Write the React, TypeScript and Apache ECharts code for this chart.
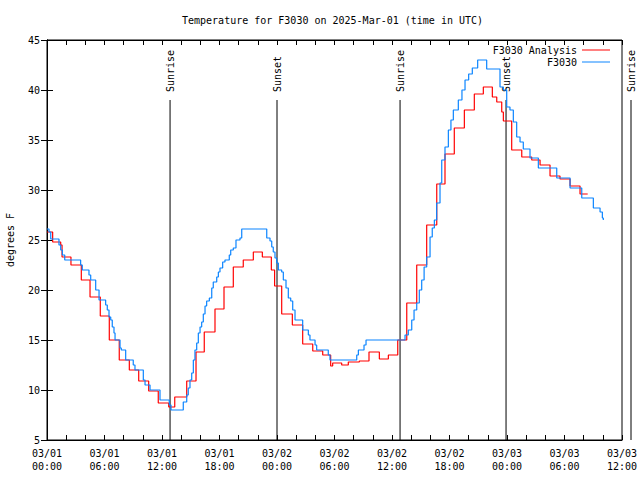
import React, { useEffect, useRef } from "react";
import * as echarts from "echarts";

const MONO = '"DejaVu Sans Mono", "Liberation Mono", monospace';

// hours since 03/01 00:00 UTC
const analysisTimes = [0, 0.59, 1.43, 1.57, 2.5, 3.58, 4.49, 5.56, 6.5, 7.54, 8.59, 9.57, 10.61, 11.61, 12.7, 13.33, 14.58, 15.55, 16.41, 17.53, 18.47, 19.44, 20.48, 21.53, 22.47, 23.41, 23.75, 24.49, 25.6, 26.68, 27.73, 28.77, 29.6, 29.81, 30.75, 31.44, 32.59, 33.6, 34.68, 35.62, 36.6, 37.54, 38.58, 39.62, 40.67, 41.53, 42.5, 43.55, 44.59, 45.53, 46.47, 46.93, 47.45, 47.62, 48.49, 49.54, 50.58, 51.45, 52.49, 53.53, 54.58, 55.62, 56.42];
const analysisValues = [25.8, 24.8, 24.5, 23.3, 22.5, 21.0, 19.3, 17.4, 15.0, 13.0, 12.0, 10.9, 9.9, 8.7, 8.3, 9.3, 10.9, 13.8, 15.8, 18.1, 20.3, 22.3, 23.0, 23.8, 23.3, 22.0, 20.4, 17.6, 16.5, 14.6, 13.9, 13.5, 12.4, 12.7, 12.5, 12.8, 12.9, 13.8, 13.1, 13.5, 15.0, 18.7, 22.5, 26.5, 30.6, 33.6, 36.2, 38.0, 39.6, 40.3, 39.3, 38.8, 37.8, 36.9, 34.0, 33.3, 33.0, 32.5, 31.4, 31.1, 30.4, 29.6, 29.6];

const stationTimes = [0, 0.21, 0.39, 1.25, 1.43, 1.6, 1.85, 3.51, 3.68, 4.38, 4.56, 5.08, 5.43, 6.12, 6.29, 6.47, 6.65, 6.81, 6.99, 7.1, 7.62, 7.75, 8.21, 9.0, 9.18, 10.05, 10.23, 10.75, 11.79, 12.76, 12.94, 14.22, 14.58, 14.74, 14.92, 15.1, 15.27, 15.44, 15.62, 15.79, 15.97, 16.14, 16.31, 16.49, 16.66, 16.94, 17.19, 17.35, 17.71, 17.88, 18.05, 18.33, 18.57, 19.02, 19.17, 19.44, 19.72, 20.14, 20.32, 22.93, 23.27, 23.45, 23.61, 23.79, 23.97, 24.14, 24.49, 24.66, 24.94, 25.18, 25.43, 25.64, 25.88, 26.68, 27.27, 27.44, 27.97, 28.14, 29.35, 29.53, 32.32, 32.49, 33.08, 33.29, 37.36, 37.7, 38.06, 38.3, 38.58, 38.85, 39.1, 39.35, 39.62, 39.97, 40.2, 40.42, 40.66, 41.01, 41.19, 41.53, 41.88, 42.15, 42.4, 42.92, 43.3, 43.62, 44.0, 44.38, 44.94, 45.88, 47.27, 47.62, 47.97, 48.31, 48.66, 49.01, 49.36, 49.7, 50.4, 51.27, 53.19, 54.58, 55.8, 57.01, 57.71, 57.95, 58.05];
const stationValues = [26.1, 25.8, 25.1, 24.5, 24.0, 23.5, 23.0, 22.5, 22.0, 21.5, 21.0, 20.0, 19.0, 18.5, 18.0, 17.3, 17.0, 16.3, 15.7, 15.0, 14.2, 14.0, 13.0, 12.5, 12.0, 11.0, 10.5, 10.0, 9.0, 8.5, 8.0, 8.8, 9.5, 10.2, 11.0, 11.7, 13.0, 14.0, 14.7, 15.7, 16.3, 16.8, 17.6, 18.4, 18.9, 19.2, 20.2, 20.8, 21.3, 21.8, 22.2, 22.8, 23.0, 23.5, 24.0, 24.2, 25.0, 25.2, 26.1, 25.2, 24.9, 24.3, 23.8, 23.2, 22.7, 22.0, 21.8, 21.0, 20.2, 19.2, 18.9, 18.0, 17.0, 16.0, 15.5, 15.0, 14.5, 14.0, 13.5, 13.0, 13.5, 14.0, 14.5, 15.0, 15.5, 16.0, 17.0, 18.0, 18.7, 20.0, 21.0, 22.3, 23.3, 25.3, 26.2, 27.0, 28.7, 30.7, 33.0, 34.3, 36.0, 37.0, 38.0, 39.0, 40.0, 41.0, 41.6, 42.2, 43.0, 42.1, 40.3, 40.0, 38.3, 38.0, 36.8, 35.3, 34.8, 34.1, 33.2, 32.2, 31.2, 30.2, 29.2, 28.2, 27.8, 27.2, 27.0];

const eventTimes = [12.84, 24.0, 36.84, 47.9, 60.94];
const eventLabels = ["Sunrise", "Sunset", "Sunrise", "Sunset", "Sunrise"];

const yTicks = [5, 10, 15, 20, 25, 30, 35, 40, 45];

const zip = (a: number[], b: number[]) => a.map((t, i) => [t, b[i]]);

function xLabel(v: number) {
  if (v % 6 !== 0) return "";
  const day = 1 + Math.floor(v / 24);
  const hh = v % 24;
  return `03/0${day}\n${hh < 10 ? "0" + hh : hh}:00`;
}

export default function App() {
  const ref = useRef<HTMLDivElement>(null);
  useEffect(() => {
    if (!ref.current) return;
    const chart = echarts.init(ref.current, undefined, { renderer: "svg" });
    const axisCommon = {
      axisLine: { show: true, lineStyle: { color: "#000", width: 1 } },
      axisTick: { show: true, inside: true, length: 5, lineStyle: { color: "#000" } },
      splitLine: { show: false },
    };
    chart.setOption({
      animation: false,
      backgroundColor: "#fff",
      title: {
        text: "Temperature for F3030 on 2025-Mar-01 (time in UTC)",
        left: 182,
        top: 15,
        padding: 0,
        textStyle: { fontFamily: MONO, fontSize: 10, fontWeight: "normal", color: "#000" },
      },
      legend: [
        {
          data: ["F3030 Analysis"],
          right: 30,
          top: 45,
          padding: 0,
          align: "right",
          icon: "rect",
          itemWidth: 28,
          itemHeight: 1,
          selectedMode: false,
          textStyle: { fontFamily: MONO, fontSize: 10, color: "#000" },
        },
        {
          data: ["F3030"],
          right: 30,
          top: 57,
          padding: 0,
          align: "right",
          icon: "rect",
          itemWidth: 28,
          itemHeight: 1,
          selectedMode: false,
          textStyle: { fontFamily: MONO, fontSize: 10, color: "#000" },
        },
      ],
      grid: {
        left: 47,
        right: 18,
        top: 40,
        bottom: 40,
        show: true,
        borderColor: "#000",
        borderWidth: 1,
        containLabel: false,
        outerBoundsMode: "none",
      },
      xAxis: [
        {
          type: "value",
          min: 0,
          max: 60,
          interval: 2,
          position: "bottom",
          ...axisCommon,
          axisLabel: {
            formatter: xLabel,
            fontFamily: MONO,
            fontSize: 10,
            lineHeight: 13,
            color: "#000",
            margin: 7,
            showMinLabel: true,
            showMaxLabel: true,
          },
        },
        {
          type: "value",
          min: 0,
          max: 60,
          interval: 2,
          position: "top",
          ...axisCommon,
          axisLabel: { show: false },
        },
      ],
      yAxis: [
        {
          type: "value",
          min: yTicks[0],
          max: yTicks[yTicks.length - 1],
          interval: 5,
          position: "left",
          name: "degrees F",
          nameLocation: "middle",
          nameGap: 32,
          nameRotate: 90,
          nameTextStyle: { fontFamily: MONO, fontSize: 10, color: "#000" },
          ...axisCommon,
          axisTick: { show: true, inside: true, length: 6, lineStyle: { color: "#000" } },
          axisLabel: { fontFamily: MONO, fontSize: 10, color: "#000", margin: 7 },
        },
        {
          type: "value",
          min: yTicks[0],
          max: yTicks[yTicks.length - 1],
          interval: 5,
          position: "right",
          ...axisCommon,
          axisTick: { show: true, inside: true, length: 6, lineStyle: { color: "#000" } },
          axisLabel: { show: false },
        },
      ],
      series: [
        {
          type: "custom",
          name: "events",
          clip: false,
          silent: true,
          data: eventTimes.map((t, i) => [t, i]),
          renderItem: (params: any, api: any) => {
            const t = api.value(0);
            const idx = api.value(1);
            const bottom = api.coord([t, 5]);
            const top = api.coord([t, 39]);
            return {
              type: "group",
              children: [
                {
                  type: "line",
                  shape: { x1: bottom[0], y1: bottom[1], x2: top[0], y2: top[1] },
                  style: { stroke: "#000", lineWidth: 1 },
                },
                {
                  type: "text",
                  x: top[0] + 0.5,
                  y: top[1] - 8,
                  rotation: Math.PI / 2,
                  style: {
                    text: eventLabels[idx],
                    textAlign: "left",
                    textVerticalAlign: "middle",
                    font: `10px ${MONO}`,
                    fill: "#000",
                  },
                },
              ],
            };
          },
        },
        {
          type: "line",
          name: "F3030 Analysis",
          step: "end",
          showSymbol: false,
          symbol: "none",
          color: "#ff0000",
          lineStyle: { color: "#ff0000", width: 1.2 },
          data: zip(analysisTimes, analysisValues),
        },
        {
          type: "line",
          name: "F3030",
          step: "end",
          showSymbol: false,
          symbol: "none",
          color: "#0a84ff",
          lineStyle: { color: "#0a84ff", width: 1.2 },
          data: zip(stationTimes, stationValues),
        },
      ],
    });
    return () => chart.dispose();
  }, []);
  return (
    <div
      ref={ref}
      style={{ position: "absolute", left: 0, top: 0, width: 640, height: 480, background: "#fff" }}
    />
  );
}
